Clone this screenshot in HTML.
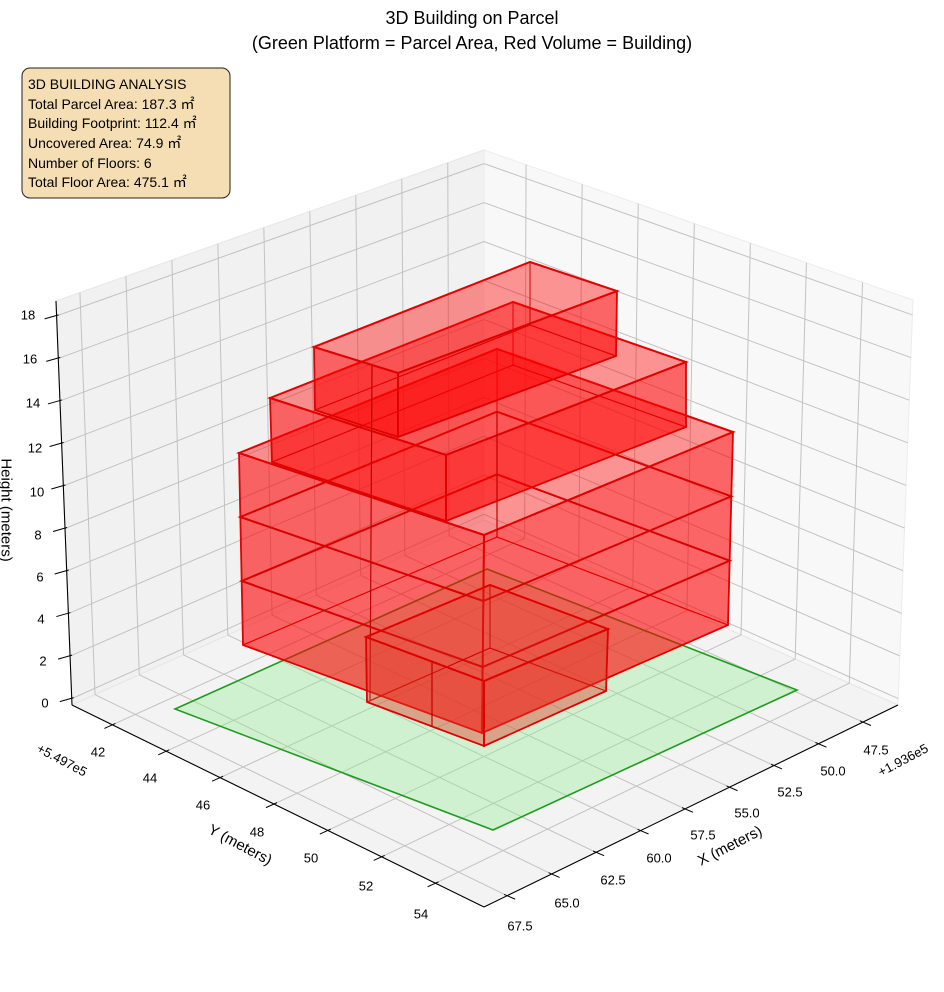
<!DOCTYPE html>
<html><head><meta charset="utf-8">
<style>
html,body{margin:0;padding:0;background:#fff;}
svg{display:block;font-family:"Liberation Sans","Noto Sans CJK JP",sans-serif;}
</style></head>
<body>
<svg id="s" width="944" height="992" viewBox="0 0 944 992" xmlns="http://www.w3.org/2000/svg">
<g id="panes"></g>
<g id="grid"></g>
<g id="axes"></g>
<g id="bld"></g>
<g font-size="13" fill="#000">
<g text-anchor="middle" dominant-baseline="central">
<text x="45" y="703">0</text><text x="43" y="661">2</text><text x="41" y="619">4</text><text x="40" y="577">6</text><text x="38" y="535">8</text><text x="37" y="492">10</text><text x="35" y="448">12</text><text x="33" y="403">14</text><text x="30" y="359">16</text><text x="28" y="315">18</text>
<text x="98" y="752">42</text><text x="150" y="778">44</text><text x="203" y="805">46</text><text x="257" y="832">48</text><text x="311" y="858">50</text><text x="366" y="886">52</text><text x="421" y="914">54</text>
<text x="876" y="750">47.5</text><text x="833" y="771">50.0</text><text x="790" y="792">52.5</text><text x="747" y="813">55.0</text><text x="703" y="835">57.5</text><text x="659" y="858">60.0</text><text x="613" y="880">62.5</text><text x="567" y="903">65.0</text><text x="520" y="926">67.5</text>
<text transform="translate(62,760) rotate(28)">+5.497e5</text>
<text transform="translate(903,760) rotate(-28)">+1.936e5</text>
</g>
<g text-anchor="middle" dominant-baseline="central" font-size="15">
<text transform="translate(240,845) rotate(28)">Y (meters)</text>
<text transform="translate(730,846) rotate(-27)">X (meters)</text>
<text transform="translate(6,510) rotate(90)">Height (meters)</text>
</g>
<g text-anchor="middle" font-size="18">
<text x="472" y="24">3D Building on Parcel</text>
<text x="472" y="49">(Green Platform = Parcel Area, Red Volume = Building)</text>
</g>
<rect x="22" y="68" width="208" height="130" rx="8" ry="8" fill="#f5deb3" stroke="#222" stroke-width="1"/>
<g font-size="14">
<text x="28" y="89">3D BUILDING ANALYSIS</text>
<text x="28" y="109">Total Parcel Area: 187.3 ㎡</text>
<text x="28" y="128">Building Footprint: 112.4 ㎡</text>
<text x="28" y="148">Uncovered Area: 74.9 ㎡</text>
<text x="28" y="168">Number of Floors: 6</text>
<text x="28" y="187">Total Floor Area: 475.1 ㎡</text>
</g>
</g>
</svg>
<script>
(function(){
var NS="http://www.w3.org/2000/svg";
function el(g,tag,attrs){var e=document.createElementNS(NS,tag);for(var k in attrs)e.setAttribute(k,attrs[k]);document.getElementById(g).appendChild(e);return e;}
function lerp(a,b,t){return [a[0]+(b[0]-a[0])*t,a[1]+(b[1]-a[1])*t];}
function pts(a){return a.map(function(p){return p[0].toFixed(1)+","+p[1].toFixed(1);}).join(" ");}
var L0=[72,705],L1=[56,301],B1=[484,150],B0=[484,520],R0=[898,705],R1=[913,300],F0=[484,907];
el("panes","polygon",{points:pts([L0,L1,B1,B0]),fill:"#f1f1f1",stroke:"#e6e6e6"});
el("panes","polygon",{points:pts([B0,B1,R1,R0]),fill:"#f8f8f8",stroke:"#ececec"});
el("panes","polygon",{points:pts([L0,B0,R0,F0]),fill:"#f3f3f3",stroke:"#e6e6e6"});
function line(g,a,b,c,w){el(g,"line",{x1:a[0],y1:a[1],x2:b[0],y2:b[1],stroke:c,"stroke-width":w});}
var gc="#c2c2c2";
for(var x=47.5;x<=67.51;x+=2.5){var u=(x-45.53)/23.27;
 line("grid",lerp(L0,B0,1-u),lerp(L1,B1,1-u),gc,1);
 line("grid",lerp(L0,B0,1-u),lerp(R0,F0,u),gc,1);
 var p=lerp(R0,F0,u);line("axes",[p[0]-3,p[1]-1.3],[p[0]+8,p[1]+3.4],"#000",1);}
for(var y=42;y<=54.01;y+=2){var v=(y-40.5)/15.3;
 line("grid",lerp(B0,R0,v),lerp(B1,R1,v),gc,1);
 line("grid",lerp(B0,R0,v),lerp(L0,F0,v),gc,1);
 var p=lerp(L0,F0,v);line("axes",[p[0]-8,p[1]+3.6],[p[0]+3,p[1]-1.4],"#000",1);}
for(var z=0;z<=18.01;z+=2){var w=(z+0.3)/19.0;
 line("grid",lerp(L0,L1,w),lerp(B0,B1,w),gc,1);
 line("grid",lerp(B0,B1,w),lerp(R0,R1,w),gc,1);
 var p=lerp(L0,L1,w);line("axes",[p[0]-12,p[1]+3],[p[0]+2,p[1]-1],"#000",1);}
line("axes",L0,L1,"#000",1.1);line("axes",L0,F0,"#000",1.1);line("axes",R0,F0,"#000",1.1);
el("bld","polygon",{points:pts([[175,709],[487,569],[797,690],[493,830]]),fill:"rgba(144,238,144,0.35)",stroke:"#1f9a1f","stroke-width":1.6});
function box(b,divs,col,ab,af,at){
 col=col||"255,0,0";ab=ab||0.26;af=af||0.45;at=at||0.2;
 var tL=b[0],tF=b[1],tR=b[2],tB=b[3],bL=b[4],bF=b[5],bR=b[6],bB=b[7];
 var back=[[bL,bB,tB,tL],[bB,bR,tR,tB],[bL,bB,bR,bF]];
 back.forEach(function(f){el("bld","polygon",{points:pts(f),fill:"rgba("+col+","+ab+")",stroke:"#d00000","stroke-width":1});});
 el("bld","polygon",{points:pts([tL,tF,tR,tB]),fill:"rgba("+col+","+at+")",stroke:"none"});
 var front=[[bL,bF,tF,tL],[bF,bR,tR,tF]];
 front.forEach(function(f){el("bld","polygon",{points:pts(f),fill:"rgba("+col+","+af+")",stroke:"#e00000","stroke-width":1.8});});
 el("bld","polygon",{points:pts([tL,tF,tR,tB]),fill:"none",stroke:"#e00000","stroke-width":2});
 (divs||[]).forEach(function(t){
  var q=[lerp(bL,tL,t),lerp(bF,tF,t),lerp(bR,tR,t),lerp(bB,tB,t)];
  el("bld","polygon",{points:pts(q),fill:"none",stroke:"#d80000","stroke-width":2});});
}
box([[239,453],[484,535],[733,432],[497,349],[243,645],[482,733],[728,625],[497,537]],[1/3,2/3]);
box([[270,398],[446,455],[686,362],[513,302],[272,462],[446,521],[686,427],[513,365]]);
box([[314,347],[398,373],[617,291],[530,262],[315,410],[398,437],[616,356],[530,325]]);
line("bld",[372,366],[370,700],"#c00000",1.2);
line("bld",[497,412],[497,537],"#c00000",1.2);
box([[366,637],[484,681],[608,629],[490,585],[367,702],[484,746],[606,691],[490,648]],null,"225,60,40",0.15,0.32,0.12);
line("bld",[432,662],[432,726],"#c00000",1.2);
})();
</script>
</body></html>
